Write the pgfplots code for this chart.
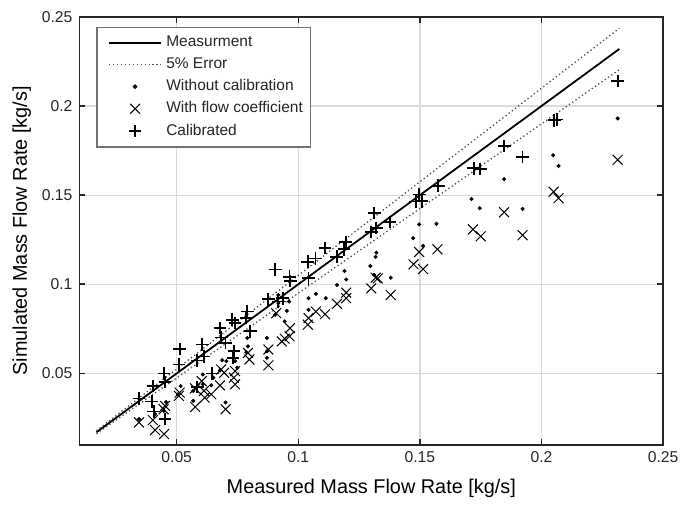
\documentclass[border=0pt]{standalone}
\usepackage{fontspec}
\setmainfont{Liberation Sans}
\usepackage{pgfplots}
\usepackage{pgfplotstable}
\pgfplotsset{compat=1.18}

\pgfplotstableread{
x y
0.2313 0.1930
0.2048 0.1724
0.2070 0.1664
0.1846 0.1590
0.1922 0.1423
0.1712 0.1478
0.1746 0.1427
0.1568 0.1339
0.1497 0.1336
0.1472 0.1259
0.1513 0.1215
0.1380 0.1037
0.1321 0.1178
0.1318 0.1154
0.1296 0.1102
0.1312 0.1052
0.1190 0.1074
0.1197 0.1027
0.1159 0.0996
0.1113 0.0922
0.1072 0.0946
0.1042 0.0922
0.1042 0.0857
0.0962 0.0903
0.0953 0.0851
0.0944 0.0792
0.0918 0.0940
0.0918 0.0894
0.0905 0.0829
0.0871 0.0699
0.0871 0.0624
0.0871 0.0587
0.0790 0.0699
0.0793 0.0652
0.0786 0.0619
0.0740 0.0569
0.0749 0.0532
0.0704 0.0569
0.0687 0.0574
0.0678 0.0517
0.0701 0.0337
0.0651 0.0476
0.0642 0.0433
0.0607 0.0494
0.0607 0.0439
0.0568 0.0346
0.0568 0.0402
0.0516 0.0429
0.0505 0.0383
0.0456 0.0340
0.0447 0.0290
0.0411 0.0272
0.0345 0.0244
}\nocal

\pgfplotstableread{
x y
0.2313 0.1698
0.2050 0.1519
0.2070 0.1483
0.1846 0.1404
0.1718 0.1308
0.1750 0.1269
0.1922 0.1275
0.1572 0.1196
0.1497 0.1181
0.1474 0.1112
0.1513 0.1085
0.1380 0.0940
0.1318 0.1037
0.1327 0.1033
0.1300 0.0977
0.1197 0.0953
0.1197 0.0922
0.1159 0.0890
0.1110 0.0832
0.1072 0.0847
0.1042 0.0810
0.1039 0.0773
0.0966 0.0754
0.0964 0.0708
0.0944 0.0695
0.0932 0.0680
0.0909 0.0838
0.0877 0.0634
0.0877 0.0545
0.0793 0.0615
0.0799 0.0578
0.0740 0.0513
0.0735 0.0476
0.0740 0.0439
0.0683 0.0522
0.0695 0.0504
0.0678 0.0433
0.0701 0.0299
0.0642 0.0383
0.0612 0.0402
0.0603 0.0457
0.0615 0.0364
0.0576 0.0312
0.0575 0.0416
0.0509 0.0374
0.0512 0.0392
0.0452 0.0318
0.0446 0.0299
0.0448 0.0160
0.0411 0.0182
0.0402 0.0238
0.0345 0.0225
}\flowcoef

\pgfplotstableread{
x y
0.0345 0.0359
0.0402 0.0429
0.0397 0.0342
0.0406 0.0286
0.0448 0.0500
0.0452 0.0452
0.0452 0.0244
0.0512 0.0637
0.0509 0.0550
0.0584 0.0572
0.0605 0.0662
0.0612 0.0595
0.0585 0.0424
0.0646 0.0500
0.0678 0.0754
0.0683 0.0702
0.0701 0.0671
0.0728 0.0801
0.0740 0.0782
0.0790 0.0847
0.0786 0.0810
0.0802 0.0736
0.0731 0.0587
0.0735 0.0624
0.0877 0.0916
0.0905 0.1083
0.0936 0.0922
0.0918 0.0903
0.0964 0.1042
0.0967 0.1018
0.1039 0.1126
0.1042 0.1033
0.1071 0.1144
0.1110 0.1204
0.1158 0.1154
0.1195 0.1237
0.1188 0.1196
0.1300 0.1293
0.1312 0.1399
0.1321 0.1315
0.1376 0.1349
0.1483 0.1464
0.1497 0.1503
0.1508 0.1466
0.1575 0.1553
0.1721 0.1651
0.1748 0.1646
0.1847 0.1776
0.1922 0.1714
0.2052 0.1920
0.2064 0.1924
0.2313 0.2141
}\calib

\begin{document}
\begin{tikzpicture}
\begin{axis}[
  name=ax,
  scale only axis, width=294pt, height=215.5pt,
  xmin=0.01, xmax=0.25, ymin=0.01, ymax=0.25,
  xtick={0.05,0.1,0.15,0.2,0.25}, ytick={0.05,0.1,0.15,0.2,0.25},
  scaled ticks=false,
  xticklabel style={/pgf/number format/fixed, /pgf/number format/precision=2},
  yticklabel style={/pgf/number format/fixed, /pgf/number format/precision=2},
  /pgf/number format/assume math mode=true,
  tick align=inside, major tick length=3pt,
  grid=major, grid style={black!14, line width=0.6pt},
  axis line style={black!85, line width=0.8pt},
  tick style={black!85, line width=0.8pt},
  tick label style={font=\fontsize{7.9}{9}\selectfont, text=black!85},
  label style={font=\fontsize{9.8}{11}\selectfont, text=black!85},
  xlabel={Measured Mass Flow Rate [kg/s]},
  ylabel={Simulated Mass Flow Rate [kg/s]},
  every axis x label/.style={at={(axis description cs:0.5,0)}, yshift=-22pt, anchor=center},
  every axis y label/.style={at={(axis description cs:0,0.5)}, xshift=-29pt, rotate=90, anchor=center},
  legend cell align=left,
  legend image code/.code={\path (0cm,0cm);
    \draw[mark repeat=2, mark phase=2, #1]
    plot coordinates {(3.75pt,0cm) (17pt,0cm) (30.25pt,0cm)};},
  legend style={at={(0.029,0.977)}, anchor=north west, draw=black!55,
    line width=0.65pt, font=\fontsize{7.8}{9}\selectfont, text=black!85,
    row sep=0pt, inner xsep=1.75pt, inner ysep=2.5pt},
]
\addplot[black, line width=0.9pt] coordinates {(0.017,0.017) (0.232,0.232)};
\addlegendentry{Measurment}
\addplot[black!70, line width=0.65pt, dash pattern=on 0.65pt off 1.35pt]
  coordinates {(0.017,0.01785) (0.232,0.2436)};
\addlegendentry{5\% Error}
\addplot[black!70, line width=0.65pt, dash pattern=on 0.65pt off 1.35pt, forget plot]
  coordinates {(0.017,0.01615) (0.232,0.2204)};
\addplot[only marks, mark=*, mark size=0.8pt, black] table {\nocal};
\addlegendentry{Without calibration}
\addplot[only marks, mark=x, mark size=3.5pt, black, line width=0.5pt] table {\flowcoef};
\addlegendentry{With flow coefficient}
\addplot[only marks, mark=+, mark size=3.2pt, black, line width=0.9pt] table {\calib};
\addlegendentry{Calibrated}
\end{axis}
% page margins as in the reference
\path (ax.south west) ++(-40pt,-29pt) (ax.north east) ++(8.5pt,8.5pt);
\end{tikzpicture}
\end{document}
